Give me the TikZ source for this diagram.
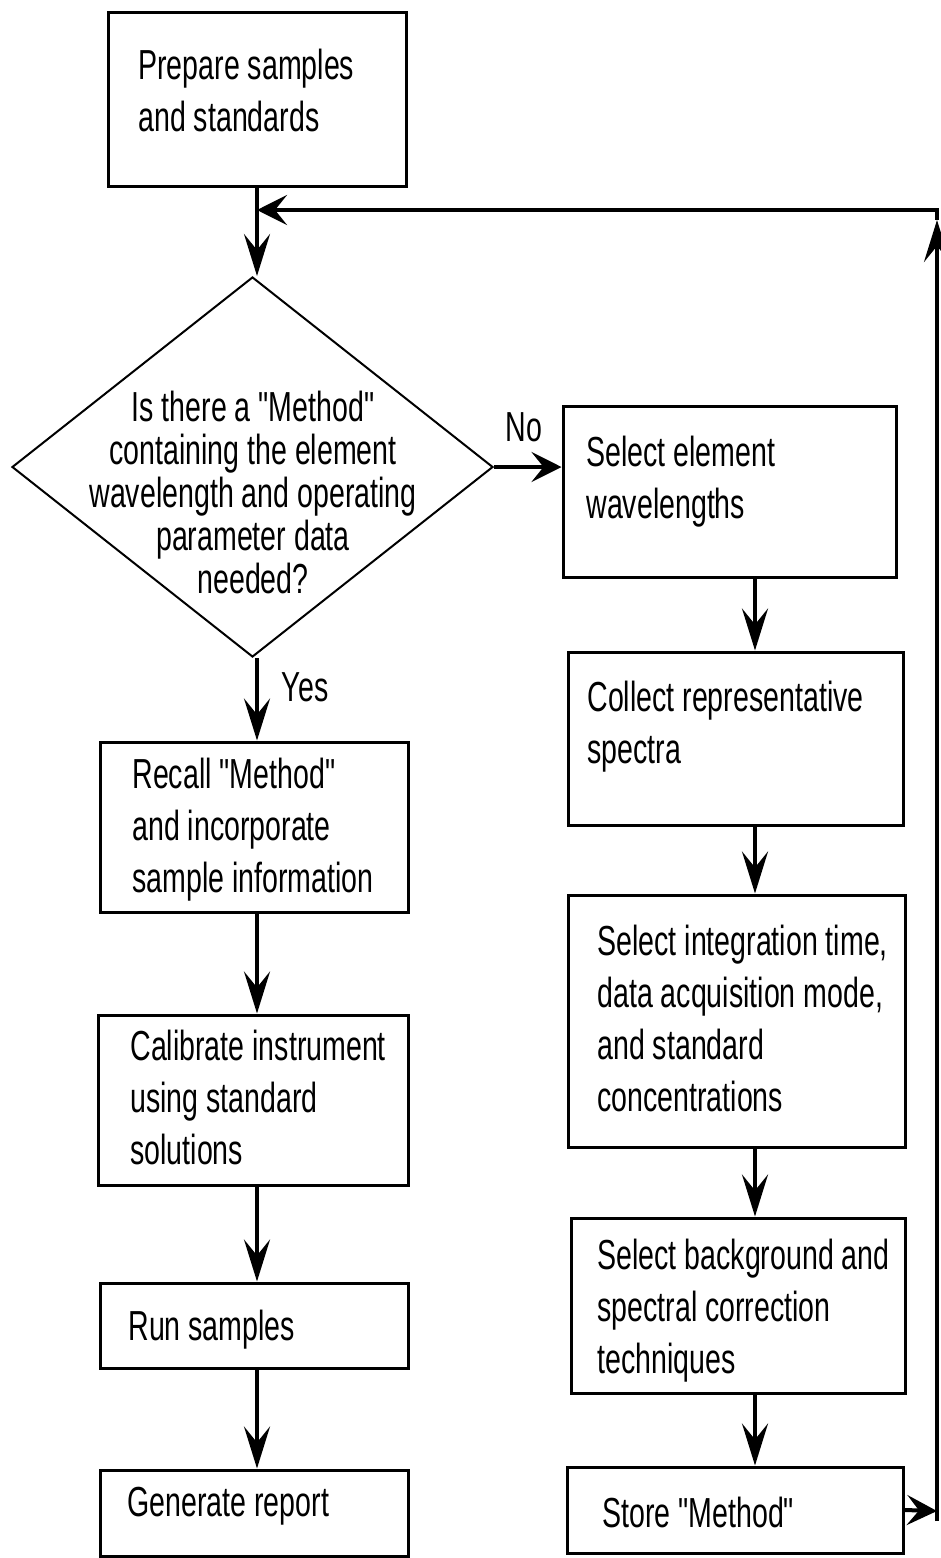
\documentclass[tikz,border=0pt]{standalone}
\usepackage{fontspec}
\setmainfont{Liberation Sans}[FakeStretch=0.68, Ligatures=TeXOff]
\usetikzlibrary{shapes.geometric,arrows.meta}
\begin{document}
\begin{tikzpicture}[x=0.5pt,y=-0.5pt,
  lbl/.style={font=\fontsize{21pt}{26pt}\selectfont, inner sep=0pt},
  txt/.style={lbl, align=left, anchor=west},
  box/.style={draw, line width=1.5pt, inner sep=0pt},
  conn/.style={line width=2pt},
  varr/.style={conn, -{Stealth[length=21pt,width=13pt,inset=8pt]}},
  harr/.style={conn, -{Stealth[length=15pt,width=15pt,inset=6pt]}}]
\useasboundingbox (0,0) rectangle (941,1558);
\coordinate (lx) at (257,0);
\coordinate (rx) at (755,0);
\coordinate (rb) at (937,1511);
\coordinate (ru) at (937,220);
\coordinate (rt) at (937,210);

% boxes
\node[box, minimum width=149pt, minimum height=87pt] (prep) at (257,99) {};
\node[draw, diamond, line width=1pt, minimum width=240.5pt, minimum height=190pt, inner sep=0pt] (dec) at (252.5,467) {};
\node[box, minimum width=166.5pt, minimum height=85.5pt] (sel1) at (729.5,491.5) {};
\node[box, minimum width=167.5pt, minimum height=86.5pt] (coll) at (735.5,738.5) {};
\node[box, minimum width=168.5pt, minimum height=126pt] (integ) at (736.5,1021) {};
\node[box, minimum width=167pt, minimum height=87.5pt] (bg) at (738,1305.5) {};
\node[box, minimum width=168pt, minimum height=43pt] (store) at (735,1510) {};
\node[box, minimum width=154pt, minimum height=85pt] (recall) at (254,827) {};
\node[box, minimum width=155pt, minimum height=85pt] (calib) at (253,1100) {};
\node[box, minimum width=154pt, minimum height=42.5pt] (run) at (254,1325.5) {};
\node[box, minimum width=154pt, minimum height=43pt] (gen) at (254,1513) {};

% texts
\node[txt] (prepT) at (138,90) {Prepare samples\\and standards};
\node[lbl, align=center, font=\fontsize{21pt}{21.5pt}\selectfont] (decT) at (253,492) {Is there a "Method"\\containing the element\\wavelength and operating\\parameter data\\needed?};
\node[txt] (sel1T) at (586,482) {Select element\\wavelengths};
\node[txt] (collT) at (587,727) {Collect representative\\spectra};
\node[txt] (integT) at (597,1018) {Select integration time,\\data acquisition mode,\\and standard\\concentrations};
\node[txt] (bgT) at (597,1311) {Select background and\\spectral correction\\techniques};
\node[txt] (storeT) at (602,1512) {Store "Method"};
\node[txt] (recallT) at (132,830) {Recall "Method"\\and incorporate\\sample information};
\node[txt] (calibT) at (130,1097) {Calibrate instrument\\using standard\\solutions};
\node[txt] (runT) at (128,1330) {Run samples};
\node[txt] (genT) at (127,1506) {Generate report};
\node[lbl] (no) at (524,427) {No};
\node[lbl] (yes) at (305,687) {Yes};

% connectors
\draw[varr] (prep.south) -- (prep.south |- dec.north);
\draw[harr] (dec.east) -- (dec.east -| sel1.west);
\draw[varr] (lx |- dec.south) -- (lx |- recall.north);
\draw[varr] (lx |- recall.south) -- (lx |- calib.north);
\draw[varr] (lx |- calib.south) -- (lx |- run.north);
\draw[varr] (lx |- run.south) -- (lx |- gen.north);
\draw[varr] (rx |- sel1.south) -- (rx |- coll.north);
\draw[varr] (rx |- coll.south) -- (rx |- integ.north);
\draw[varr] (rx |- integ.south) -- (rx |- bg.north);
\draw[varr] (rx |- bg.south) -- (rx |- store.north);
\draw[harr] (store.east) -- (rb);
\draw[varr] ([yshift=-5pt]rb) -- (ru);
\draw[harr] (ru) -- (rt) -- (lx |- rt);
\end{tikzpicture}
\end{document}
